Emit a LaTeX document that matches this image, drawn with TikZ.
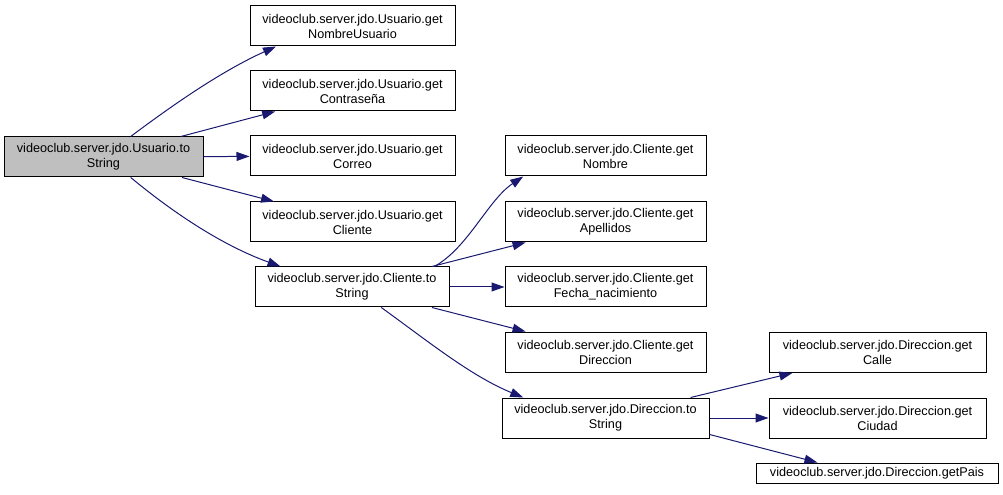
\documentclass[tikz,border=0pt]{standalone}
\usepackage{fontspec}
\setmainfont{Liberation Sans}
\usepackage{tikz}
\usetikzlibrary{arrows.meta}
\definecolor{edgeblue}{RGB}{25,25,112}
\definecolor{hilite}{RGB}{191,191,191}

\begin{document}
\begin{tikzpicture}[x=0.75pt,y=-0.75pt,
    func/.style={draw,line width=0.75pt,inner sep=0pt,minimum height=30pt,
      align=center,font=\fontsize{9.5}{11.25}\selectfont},
    calls/.style={draw=edgeblue,line width=0.75pt,
      -{Triangle[length=9.75pt,width=6.7pt]}}]
    \useasboundingbox (0,0) rectangle (1003,495);
    % caller
    \node[func,fill=hilite,minimum width=149.25pt] (main) at (103.5,157) {videoclub.server.jdo.Usuario.to\\String};
    % Usuario
    \node[func,minimum width=153.75pt] (uNom) at (352.5,26) {videoclub.server.jdo.Usuario.get\\NombreUsuario};
    \node[func,minimum width=153.75pt] (uCon) at (352.5,91) {videoclub.server.jdo.Usuario.get\\Contraseña};
    \node[func,minimum width=153.75pt] (uCor) at (352.5,156) {videoclub.server.jdo.Usuario.get\\Correo};
    \node[func,minimum width=153.75pt] (uCli) at (352.5,222) {videoclub.server.jdo.Usuario.get\\Cliente};
    \node[func,minimum width=145.5pt] (cStr) at (352,287) {videoclub.server.jdo.Cliente.to\\String};
    % Cliente
    \node[func,minimum width=150.75pt] (cNom) at (605.5,156) {videoclub.server.jdo.Cliente.get\\Nombre};
    \node[func,minimum width=150.75pt] (cApe) at (605.5,222) {videoclub.server.jdo.Cliente.get\\Apellidos};
    \node[func,minimum width=150.75pt] (cFec) at (605.5,287) {videoclub.server.jdo.Cliente.get\\Fecha\_nacimiento};
    \node[func,minimum width=150.75pt] (cDir) at (605.5,352) {videoclub.server.jdo.Cliente.get\\Direccion};
    \node[func,minimum width=155.25pt] (dStr) at (605.5,418) {videoclub.server.jdo.Direccion.to\\String};
    % Direccion
    \node[func,minimum width=162.75pt] (dCal) at (877.5,352.5) {videoclub.server.jdo.Direccion.get\\Calle};
    \node[func,minimum width=162.75pt] (dCiu) at (877.5,418) {videoclub.server.jdo.Direccion.get\\Ciudad};
    \node[func,minimum width=181.5pt,minimum height=15pt] (dPai) at (877,473) {videoclub.server.jdo.Direccion.getPais};

    \draw[calls] (main.37) .. controls (178,101) and (224,70) .. (uNom.195);
    \draw[calls] (main) -- (uCon);
    \draw[calls] (main) -- (uCor);
    \draw[calls] (main) -- (uCli);
    \draw[calls] (main.-37) .. controls (176,215) and (224,246) .. (cStr.164);
    \draw[calls] (cStr.14) .. controls (468,248) and (488,200) .. (cNom.194);
    \draw[calls] (cStr) -- (cApe);
    \draw[calls] (cStr) -- (cFec);
    \draw[calls] (cStr) -- (cDir);
    \draw[calls] (cStr.-35.5) .. controls (429,342) and (471,376) .. (dStr.166);
    \draw[calls] (dStr) -- (dCal);
    \draw[calls] (dStr) -- (dCiu);
    \draw[calls] (dStr.-9) -- (dPai.170);
\end{tikzpicture}
\end{document}
